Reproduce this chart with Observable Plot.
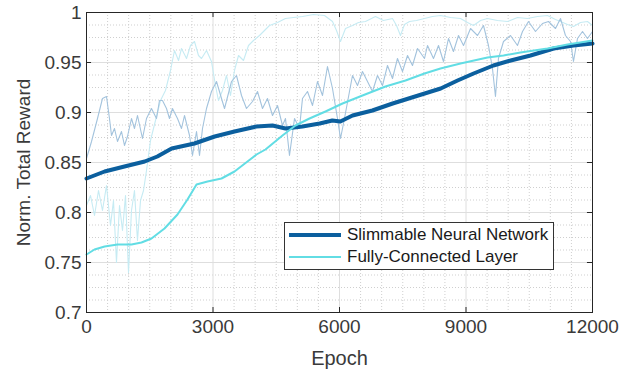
<!DOCTYPE html>
<html>
<head>
<meta charset="utf-8">
<script src="https://cdn.jsdelivr.net/npm/d3@7"></script>
<script src="https://cdn.jsdelivr.net/npm/@observablehq/plot@0.6"></script>
<style>
  html, body { margin: 0; padding: 0; background: #fff; }
  #wrap { position: relative; width: 634px; height: 377px; font-family: "Liberation Sans", Arial, sans-serif; }
  #legend { position: absolute; left: 284px; top: 222px; width: 270px; height: 48px; border: 1px solid #333; background: #fff; box-sizing: border-box; }
  .row { position: absolute; left: 0; height: 22px; display: flex; align-items: center; font-size: 17px; color: #1a1a1a; white-space: nowrap; }
  .sw { display: inline-block; width: 52px; margin-left: 4px; margin-right: 6px; }
</style>
</head>
<body>
<div id="wrap"></div>
<script>
// ---- data ----
const xTicks = [0, 3000, 6000, 9000, 12000];
const yTicks = [0.7, 0.75, 0.8, 0.85, 0.9, 0.95, 1];
const xMinor = [500,1000,1500,2000,2500,3500,4000,4500,5000,5500,6500,7000,7500,8000,8500,9500,10000,10500,11000,11500];
const yMinor = [0.7125,0.725,0.7375,0.7625,0.775,0.7875,0.8125,0.825,0.8375,0.8625,0.875,0.8875,0.9125,0.925,0.9375,0.9625,0.975,0.9875];
const seriesNames = ["Slimmable Neural Network", "Fully-Connected Layer"];

const slimEpoch = [0,430,900,1380,1680,2020,2560,3040,3510,4030,4410,4720,5120,5530,5830,6020,6310,6780,7260,8020,8400,8800,9180,9650,10060,10530,11080,11550,12000];
const slimValue = [0.834,0.841,0.846,0.851,0.856,0.864,0.869,0.876,0.881,0.886,0.887,0.884,0.886,0.889,0.892,0.891,0.897,0.902,0.909,0.919,0.924,0.932,0.939,0.947,0.952,0.957,0.964,0.967,0.969];

const fcEpoch = [0,190,430,735,1067,1304,1541,1850,2158,2395,2609,2870,3202,3510,3818,4032,4245,4648,4956,5288,5668,6071,6545,7091,7565,8016,8395,8870,9510,9889,10292,10933,11407,12000];
const fcValue = [0.758,0.763,0.766,0.768,0.768,0.770,0.774,0.784,0.798,0.813,0.828,0.831,0.834,0.841,0.851,0.858,0.863,0.877,0.887,0.894,0.901,0.909,0.917,0.926,0.932,0.939,0.944,0.949,0.955,0.957,0.960,0.964,0.968,0.972];

const slimRawEpoch = [0,119,261,379,474,545,593,664,735,830,901,972,1067,1138,1209,1328,1423,1541,1660,1731,1802,1897,1968,2039,2158,2253,2324,2443,2514,2609,2680,2751,2846,2964,3083,3202,3273,3439,3557,3676,3794,3937,4055,4174,4292,4411,4530,4648,4719,4814,4933,5051,5122,5241,5360,5478,5597,5715,5834,5952,6024,6118,6237,6308,6427,6545,6664,6782,6901,7020,7138,7257,7375,7494,7613,7731,7850,8016,8087,8229,8348,8466,8585,8703,8822,8941,9107,9273,9415,9533,9628,9699,9770,9889,10055,10221,10340,10482,10648,10814,10956,11122,11241,11359,11478,11549,11644,11763,11881,12000];
const slimRawValue = [0.854,0.871,0.894,0.914,0.916,0.894,0.877,0.884,0.871,0.881,0.867,0.876,0.894,0.884,0.897,0.874,0.894,0.904,0.894,0.912,0.912,0.904,0.894,0.904,0.894,0.884,0.897,0.877,0.857,0.881,0.857,0.884,0.904,0.921,0.931,0.914,0.904,0.931,0.937,0.917,0.904,0.911,0.921,0.904,0.914,0.897,0.907,0.887,0.894,0.857,0.894,0.884,0.914,0.921,0.907,0.931,0.917,0.946,0.924,0.894,0.874,0.894,0.921,0.937,0.927,0.941,0.931,0.921,0.937,0.927,0.947,0.934,0.954,0.941,0.957,0.947,0.964,0.954,0.967,0.954,0.967,0.951,0.974,0.961,0.977,0.967,0.984,0.977,0.987,0.967,0.944,0.916,0.954,0.971,0.977,0.967,0.981,0.991,0.981,0.989,0.991,0.984,0.994,0.977,0.971,0.951,0.974,0.981,0.974,0.981];

const fcRawEpoch = [0,95,190,285,379,474,569,640,711,783,854,925,996,1067,1138,1209,1281,1352,1423,1518,1636,1755,1873,1992,2087,2182,2253,2372,2466,2561,2656,2727,2846,2964,3059,3130,3225,3320,3415,3510,3605,3723,3842,3960,4103,4221,4340,4530,4719,4909,5122,5383,5644,5739,5834,5929,6024,6142,6308,6450,6616,6853,7043,7257,7352,7446,7541,7660,7826,8016,8205,8395,8632,8870,9035,9178,9344,9510,9747,9984,10221,10458,10695,10933,11122,11241,11407,11549,11715,11881,12000];
const fcRawValue = [0.807,0.817,0.797,0.822,0.802,0.827,0.787,0.812,0.750,0.807,0.782,0.817,0.740,0.802,0.822,0.772,0.812,0.822,0.842,0.872,0.892,0.912,0.922,0.942,0.962,0.952,0.964,0.954,0.967,0.971,0.957,0.954,0.962,0.951,0.927,0.912,0.922,0.937,0.917,0.942,0.957,0.952,0.967,0.972,0.977,0.982,0.987,0.990,0.994,0.995,0.996,0.998,0.997,0.994,0.991,0.982,0.971,0.984,0.987,0.990,0.991,0.996,0.992,0.994,0.987,0.977,0.988,0.991,0.992,0.994,0.996,0.997,0.995,0.994,0.990,0.987,0.992,0.994,0.992,0.991,0.995,0.994,0.996,0.997,0.993,0.991,0.988,0.986,0.990,0.991,0.987];

const colors = { slim: "#0b5f9e", fc: "#62dde4", slimRaw: "#a3c3dd", fcRaw: "#c6ebf3" };

// ---- build ----
const zip = (xs, ys) => xs.map((x, i) => ({x, y: ys[i]}));
const slim = zip(slimEpoch, slimValue);
const fc = zip(fcEpoch, fcValue);
const slimRaw = zip(slimRawEpoch, slimRawValue);
const fcRaw = zip(fcRawEpoch, fcRawValue);

const fmt = d => String(+d.toFixed(2));
const axisColor = "#262626";
const textColor = "#3a3a3a";

const chart = Plot.plot({
  width: 634,
  height: 377,
  marginLeft: 86,
  marginRight: 42,
  marginTop: 12,
  marginBottom: 65,
  x: { domain: [0, 12000] },
  y: { domain: [0.7, 1] },
  style: { fontFamily: "'Liberation Sans', Arial, sans-serif", background: "#fff", color: textColor, overflow: "visible" },
  marks: [
    Plot.ruleX(xMinor, { stroke: "#cfcfcf", strokeDasharray: "1,2" }),
    Plot.ruleY(yMinor, { stroke: "#cfcfcf", strokeDasharray: "1,2" }),
    Plot.ruleX(xTicks, { stroke: "#dedede" }),
    Plot.ruleY(yTicks, { stroke: "#dedede" }),
    Plot.line(fcRaw, { x: "x", y: "y", stroke: colors.fcRaw, strokeWidth: 1.1 }),
    Plot.line(slimRaw, { x: "x", y: "y", stroke: colors.slimRaw, strokeWidth: 1.1 }),
    Plot.line(slim, { x: "x", y: "y", stroke: colors.slim, strokeWidth: 4 }),
    Plot.line(fc, { x: "x", y: "y", stroke: colors.fc, strokeWidth: 2 }),
    Plot.frame({ stroke: axisColor, strokeWidth: 1 }),
    Plot.ruleX(xTicks, { y1: 0.7, y2: 0.705, stroke: axisColor }),
    Plot.ruleX(xTicks, { y1: 0.995, y2: 1, stroke: axisColor }),
    Plot.ruleY(yTicks, { x1: 0, x2: 120, stroke: axisColor }),
    Plot.ruleY(yTicks, { x1: 11880, x2: 12000, stroke: axisColor }),
    Plot.axisX(xTicks, { tickSize: 0, tickPadding: 7, fontSize: 19, label: null, tickFormat: d => String(d), fill: textColor }),
    Plot.axisY(yTicks, { tickSize: 0, tickPadding: 5, fontSize: 19, label: null, tickFormat: fmt, fill: textColor }),
    Plot.text(["Epoch"], { frameAnchor: "bottom", dy: 46, lineAnchor: "middle", textAnchor: "middle", fontSize: 20, fill: textColor, text: d => d }),
    Plot.text(["Norm. Total Reward"], { frameAnchor: "left", dx: -63, rotate: -90, textAnchor: "middle", lineAnchor: "middle", fontSize: 19, fill: textColor, text: d => d })
  ]
});

const wrap = document.getElementById("wrap");
wrap.appendChild(chart);

const legend = document.createElement("div");
legend.id = "legend";
const legendItems = [
  { name: seriesNames[0], color: colors.slim, w: 4, top: 1 },
  { name: seriesNames[1], color: colors.fc, w: 2, top: 23 }
];
legendItems.forEach(it => {
  const row = document.createElement("div");
  row.className = "row";
  row.style.top = it.top + "px";
  const sw = document.createElement("span");
  sw.className = "sw";
  sw.style.borderTop = `${it.w}px solid ${it.color}`;
  row.appendChild(sw);
  const t = document.createElement("span");
  t.textContent = it.name;
  row.appendChild(t);
  legend.appendChild(row);
});
wrap.appendChild(legend);
</script>
</body>
</html>
